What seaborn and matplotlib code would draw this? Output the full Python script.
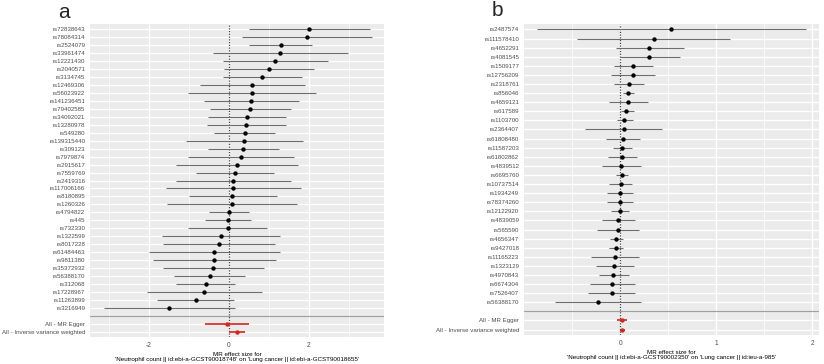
import numpy as np
import pandas as pd
import matplotlib
matplotlib.use("Agg")
import matplotlib.pyplot as plt
import seaborn as sns

# ---- panel a data ----
snps_a = ["rs72838643", "rs78084314", "rs2524079", "rs33961474", "rs12221430", "rs2040571",
          "rs3134745", "rs12469306", "rs56023922", "rs141236451", "rs79402585", "rs34092021",
          "rs13280978", "rs549280", "rs139315440", "rs309123", "rs7979874", "rs2915617",
          "rs7559769", "rs2419316", "rs117006166", "rs8180895", "rs1260326", "rs4794822",
          "rs445", "rs732330", "rs1322599", "rs8017228", "rs61484463", "rs9811380",
          "rs35372932", "rs56388170", "rs312068", "rs17228967", "rs11263899", "rs3216949"]
b_a = [2.01, 1.95, 1.29, 1.28, 1.16, 0.99, 0.83, 0.58, 0.575, 0.55, 0.53, 0.45,
       0.43, 0.39, 0.375, 0.36, 0.29, 0.19, 0.15, 0.10, 0.09, 0.075, 0.07, 0.0,
       -0.025, -0.03, -0.21, -0.26, -0.375, -0.375, -0.39, -0.48, -0.58, -0.62, -0.825, -1.5]
lo_a = [0.50, 0.33, 0.51, -0.41, -0.15, -0.12, -0.15, -0.73, -1.02, -0.63, -0.47, -0.53,
        -0.56, -0.37, -1.08, -0.53, -1.03, -1.33, -0.83, -1.33, -1.58, -1.0, -1.56, -0.49,
        -0.59, -1.02, -1.675, -1.65, -2.01, -1.91, -1.65, -1.375, -1.325, -2.04, -1.79, -3.13]
hi_a = [3.52, 3.57, 2.08, 2.98, 2.47, 2.13, 1.83, 1.91, 2.17, 1.74, 1.54, 1.43,
        1.42, 1.15, 1.84, 1.24, 1.63, 1.72, 1.13, 1.55, 1.79, 1.19, 1.71, 0.50,
        0.54, 0.96, 1.28, 1.14, 1.275, 1.18, 0.88, 0.39, 0.15, 0.825, 0.125, 0.14]
all_b_a = [-0.06, 0.21]
all_lo_a = [-0.61, 0.01]
all_hi_a = [0.51, 0.40]
xlabel_a = ("MR effect size for\n'Neutrophil count || id:ebi-a-GCST90018748' on "
            "'Lung cancer || id:ebi-a-GCST90018655'")

# ---- panel b data ----
snps_b = ["rs2487574", "rs111578410", "rs4652291", "rs4081545", "rs1509177", "rs12756209",
          "rs2318761", "rs856046", "rs4659121", "rs617589", "rs1103700", "rs2364407",
          "rs61808480", "rs11587203", "rs61802862", "rs4839512", "rs6695760", "rs10737514",
          "rs1934249", "rs78374260", "rs12122920", "rs4839059", "rs565590", "rs4656347",
          "rs9427018", "rs11165223", "rs1323129", "rs4970843", "rs6674304", "rs7526407",
          "rs56388170"]
b_b = [0.53, 0.35, 0.305, 0.30, 0.135, 0.13, 0.095, 0.087, 0.083, 0.066, 0.045, 0.045,
       0.03, 0.02, 0.02, 0.014, 0.017, 0.007, 0.0, -0.003, -0.003, -0.024, -0.024, -0.038,
       -0.045, -0.052, -0.06, -0.07, -0.08, -0.087, -0.23]
lo_b = [-0.86, -0.445, -0.045, 0.0, -0.06, -0.09, -0.06, 0.035, -0.115, 0.007, -0.035, -0.36,
        -0.145, -0.07, -0.125, -0.19, -0.045, -0.115, -0.14, -0.14, -0.09, -0.19, -0.24, -0.10,
        -0.12, -0.30, -0.25, -0.215, -0.31, -0.33, -0.68]
hi_b = [1.93, 1.14, 0.67, 0.625, 0.34, 0.36, 0.25, 0.145, 0.29, 0.14, 0.13, 0.44,
        0.21, 0.12, 0.177, 0.22, 0.083, 0.12, 0.13, 0.13, 0.09, 0.15, 0.20, 0.035,
        0.035, 0.20, 0.14, 0.09, 0.16, 0.16, 0.215]
all_b_b = [0.02, 0.02]
all_lo_b = [-0.035, 0.0]
all_hi_b = [0.07, 0.05]
xlabel_b = ("MR effect size for\n'Neutrophil count || id:ebi-a-GCST90002350' on "
            "'Lung cancer || id:ieu-a-985'")

all_labels = ["All - MR Egger", "All - Inverse variance weighted"]

sns.set_theme(style="darkgrid")
plt.rcParams["font.family"] = ["Liberation Sans", "DejaVu Sans"]


def build_table(snps, b, lo, hi, all_b, all_lo, all_hi):
    df = pd.DataFrame({
        "label": snps + [""] + all_labels,
        "b": b + [np.nan] + all_b,
        "lo": lo + [np.nan] + all_lo,
        "hi": hi + [np.nan] + all_hi,
        "kind": ["snp"] * len(snps) + ["blank"] + ["all"] * 2,
    })
    df["pos"] = np.arange(len(df))
    return df


def forest(ax, df, xlim, major, minor, xlabel):
    ax.set_facecolor("#EBEBEB")
    for s in ax.spines.values():
        s.set_visible(False)
    ax.grid(False)
    for v in minor:
        ax.axvline(v, color="white", lw=0.5, zorder=0)
    for v in major:
        ax.axvline(v, color="white", lw=1.0, zorder=0)
    for p in df["pos"]:
        ax.axhline(p, color="white", lw=1.0, zorder=0)

    blank = df.loc[df["kind"] == "blank", "pos"].iloc[0]
    ax.axhline(blank, color="#A0A0A0", lw=0.9, zorder=1)
    ax.axvline(0, color="#444444", lw=0.9, ls=(0, (1, 1.2)), zorder=1)

    snp = df[df["kind"] == "snp"]
    summ = df[df["kind"] == "all"]
    ax.hlines(snp["pos"], snp["lo"], snp["hi"], color="#6E6E6E", lw=0.8, zorder=2)
    ax.hlines(summ["pos"], summ["lo"], summ["hi"], color="#D2261E", lw=1.2, zorder=2)
    sns.scatterplot(data=snp, x="b", y="pos", color="black", s=10, linewidth=0,
                    ax=ax, zorder=3, legend=False)
    sns.scatterplot(data=summ, x="b", y="pos", color="#D2261E", s=10, linewidth=0,
                    ax=ax, zorder=3, legend=False)

    ax.set_xlim(*xlim)
    ax.set_ylim(len(df) - 1 + 0.6, -0.6)
    ax.set_yticks(df["pos"])
    ax.set_yticklabels(df["label"])
    ax.set_xticks(major)
    ax.set_xticklabels([f"{v:g}" for v in major])
    ax.tick_params(axis="both", colors="#333333", labelcolor="#4D4D4D", length=2,
                   width=0.5, pad=1.5)
    ax.tick_params(axis="y", labelsize=4.4)
    ax.tick_params(axis="x", labelsize=4.8)
    ax.set_ylabel("")
    ax.set_xlabel(xlabel, fontsize=4.5, color="black", labelpad=2, linespacing=1.1)


df_a = build_table(snps_a, b_a, lo_a, hi_a, all_b_a, all_lo_a, all_hi_a)
df_b = build_table(snps_b, b_b, lo_b, hi_b, all_b_b, all_lo_b, all_hi_b)

fig = plt.figure(figsize=(8.24, 3.64), dpi=100)
fig.patch.set_facecolor("white")
ax_a = fig.add_axes([90 / 824, 1 - 337 / 364, 294 / 824, 313 / 364])
ax_b = fig.add_axes([524 / 824, 1 - 335 / 364, 295 / 824, 311 / 364])

forest(ax_a, df_a, (-3.475, 3.875), [-2, 0, 2], [-3, -1, 1, 3], xlabel_a)
forest(ax_b, df_b, (-1.0, 2.07), [0, 1, 2], [-0.5, 0.5, 1.5], xlabel_b)

fig.text(64 / 824, 1 - 12 / 364, "a", fontsize=15, ha="center", va="center")
fig.text(497 / 824, 1 - 11 / 364, "b", fontsize=15, ha="center", va="center")

fig.savefig("out.png", dpi=100)
